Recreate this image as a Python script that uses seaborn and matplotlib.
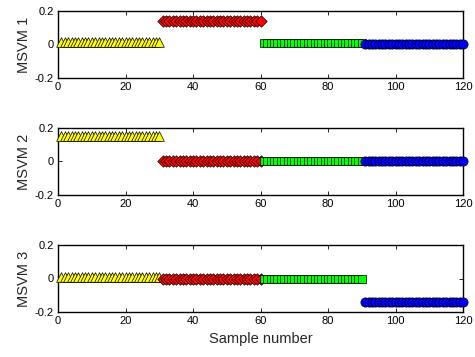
import numpy as np
import pandas as pd
import matplotlib
matplotlib.use("Agg")
import matplotlib.pyplot as plt
import seaborn as sns

# Four classes of 30 samples each
class_names = ["Class 1", "Class 2", "Class 3", "Class 4"]
class_sizes = [30, 30, 30, 30]
class_colors = ["#ffff00", "#ff0000", "#00ff00", "#0000ff"]
class_markers = ["^", "D", "s", "o"]
marker_areas = [48, 34, 40, 44]

# Output level of each MSVM for each class
msvm1_levels = [0.015, 0.142, 0.008, 0.004]
msvm2_levels = [0.153, 0.0, 0.0, 0.0]
msvm3_levels = [0.010, -0.002, -0.002, -0.140]

panel_labels = ["MSVM 1", "MSVM 2", "MSVM 3"]
x_ticks = [0, 20, 40, 60, 80, 100, 120]
y_ticks = [-0.2, 0, 0.2]
y_ticklabels = ["-0.2", "0", "0.2"]

sns.set_style("ticks")
plt.rcParams["font.family"] = ["Liberation Sans", "DejaVu Sans"]

# Long-form table: one row per sample per output
rows = []
start = 1
for name, n, l1, l2, l3 in zip(class_names, class_sizes, msvm1_levels, msvm2_levels, msvm3_levels):
    for s in range(start, start + n):
        rows.append({"sample": s, "cls": name, "MSVM 1": l1, "MSVM 2": l2, "MSVM 3": l3})
    start += n
df = pd.DataFrame(rows)

fig = plt.figure(figsize=(4.75, 3.57), dpi=100)
left, width, height = 58 / 475, 405 / 475, 67 / 357
bottoms = [1 - 78 / 357, 1 - 195 / 357, 1 - 312 / 357]

for i, (label, bottom) in enumerate(zip(panel_labels, bottoms)):
    ax = fig.add_axes([left, bottom, width, height])
    for name, color, marker, area in zip(class_names, class_colors, class_markers, marker_areas):
        sub = df[df["cls"] == name]
        sns.scatterplot(data=sub, x="sample", y=label, ax=ax, color=color,
                        marker=marker, s=area,
                        edgecolor="black", linewidth=0.5, legend=False,
                        clip_on=False, zorder=3)
    ax.set_xlim(0, 120)
    ax.set_ylim(-0.2, 0.2)
    ax.set_xticks(x_ticks)
    ax.set_yticks(y_ticks)
    ax.set_yticklabels(y_ticklabels)
    ax.tick_params(direction="in", length=3, width=0.6, labelsize=8,
                   top=True, right=True, pad=3, colors="black")
    for sp in ax.spines.values():
        sp.set_linewidth(1.0)
        sp.set_color("black")
    ax.set_ylabel(label, fontsize=10.5, labelpad=3)
    if i == 2:
        ax.set_xlabel("Sample number", fontsize=10.5, labelpad=4)
    else:
        ax.set_xlabel("")

fig.savefig("out.png", dpi=100)
